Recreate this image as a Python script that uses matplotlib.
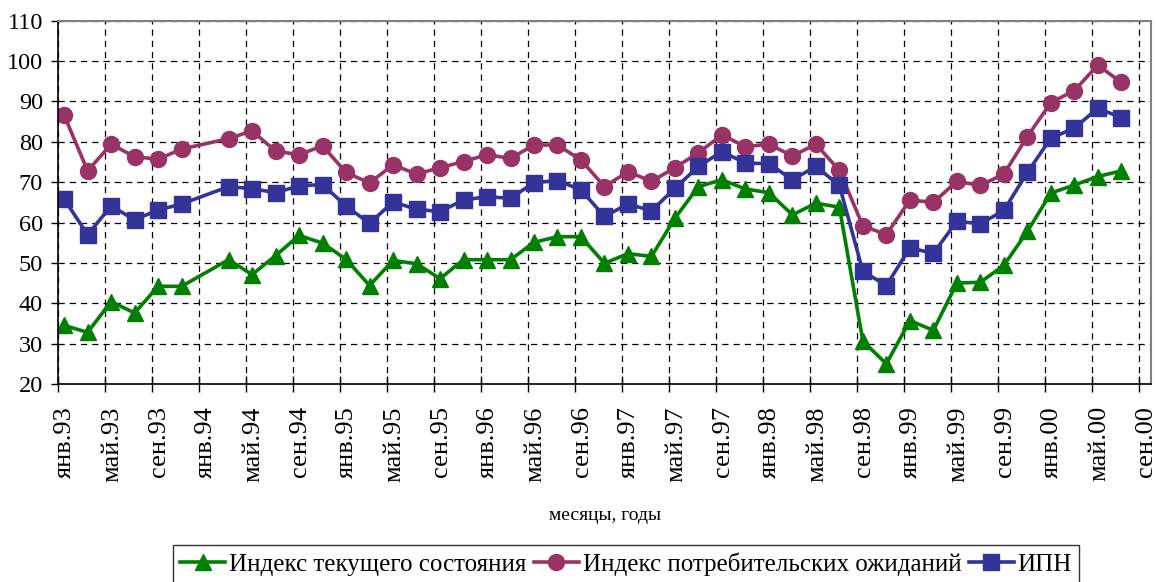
import numpy as np
import matplotlib
matplotlib.use('Agg')
import matplotlib.pyplot as plt
import matplotlib.transforms as mtransforms

plt.rcParams['font.family'] = ['Liberation Serif', 'DejaVu Serif']

# Даты наблюдений (год-месяц)
dates = ['1993-01', '1993-03', '1993-05', '1993-07', '1993-09', '1993-11',
         '1994-03', '1994-05', '1994-07', '1994-09', '1994-11',
         '1995-01', '1995-03', '1995-05', '1995-07', '1995-09', '1995-11',
         '1996-01', '1996-03', '1996-05', '1996-07', '1996-09', '1996-11',
         '1997-01', '1997-03', '1997-05', '1997-07', '1997-09', '1997-11',
         '1998-01', '1998-03', '1998-05', '1998-07', '1998-09', '1998-11',
         '1999-01', '1999-03', '1999-05', '1999-07', '1999-09', '1999-11',
         '2000-01', '2000-03', '2000-05', '2000-07']

# Индекс текущего состояния
tek = [34.5, 32.8, 40.4, 37.6, 44.2, 44.2,
       50.8, 47.1, 51.8, 56.8, 54.9,
       50.9, 44.4, 50.6, 49.8, 46.1, 50.8,
       50.8, 50.8, 55.1, 56.5, 56.5, 49.9,
       52.3, 51.6, 61.1, 68.9, 70.6, 68.3,
       67.4, 61.9, 64.8, 63.8, 30.6, 25.0,
       35.7, 33.3, 45.0, 45.2, 49.4, 57.8,
       67.3, 69.3, 71.4, 72.8]

# Индекс потребительских ожиданий
ozh = [86.6, 72.8, 79.4, 76.3, 75.7, 78.2,
       80.8, 82.7, 77.7, 76.8, 79.0,
       72.4, 69.8, 74.3, 72.0, 73.6, 75.1,
       76.8, 75.9, 79.2, 79.2, 75.5, 68.9,
       72.6, 70.2, 73.6, 77.3, 81.7, 78.8,
       79.4, 76.5, 79.4, 72.9, 59.2, 57.0,
       65.6, 65.0, 70.2, 69.2, 72.0, 81.3,
       89.7, 92.7, 99.0, 94.7]

# ИПН
ipn = [65.8, 57.0, 64.1, 60.7, 63.1, 64.6,
       68.9, 68.4, 67.4, 69.1, 69.4,
       64.1, 59.8, 65.1, 63.3, 62.7, 65.6,
       66.4, 66.0, 69.9, 70.4, 68.1, 61.5,
       64.6, 62.9, 68.5, 73.9, 77.6, 74.7,
       74.6, 70.6, 73.9, 69.2, 47.9, 44.4,
       53.7, 52.4, 60.3, 59.7, 63.0, 72.4,
       80.9, 83.4, 88.3, 86.0]

tick_labels = ['янв.93', 'май.93', 'сен.93', 'янв.94', 'май.94', 'сен.94',
               'янв.95', 'май.95', 'сен.95', 'янв.96', 'май.96', 'сен.96',
               'янв.97', 'май.97', 'сен.97', 'янв.98', 'май.98', 'сен.98',
               'янв.99', 'май.99', 'сен.99', 'янв.00', 'май.00', 'сен.00']

# номер месяца от янв.93, точка в середине месяца (как в Excel)
x = np.array([(int(d[:4]) - 1993) * 12 + int(d[5:]) - 1 for d in dates]) + 0.5

fig = plt.figure(figsize=(11.56, 5.82), dpi=100)
ax = fig.add_axes([0.0504, 0.3402, 0.945, 0.6242])

ax.plot(x, tek, color='#008000', lw=2.6, marker='^', ms=11.5,
        label='Индекс текущего состояния')
ax.plot(x, ozh, color='#993366', lw=2.6, marker='o', ms=11.5,
        label='Индекс потребительских ожиданий')
ax.plot(x, ipn, color='#333399', lw=2.6, marker='s', ms=11.5,
        label='ИПН')

ax.set_xlim(0, 93)
ax.set_ylim(20, 110)
ax.set_yticks(np.arange(20, 111, 10))
ax.set_xticks(np.arange(0, 93, 4))
ax.set_xticklabels(tick_labels, rotation=90)

ax.grid(True, color='black', linestyle=(0, (5, 4)), linewidth=0.9)
ax.set_axisbelow(True)

for s in ['top', 'right']:
    ax.spines[s].set_color('#808080')
    ax.spines[s].set_linewidth(1.5)
for s in ['left', 'bottom']:
    ax.spines[s].set_color('black')
    ax.spines[s].set_linewidth(1.2)

ax.tick_params(axis='y', direction='out', length=5, width=1, labelsize=17.5, pad=6)
ax.tick_params(axis='x', direction='inout', length=12, width=1, labelsize=19, pad=10)

# подписи оси X чуть правее делений, как в оригинале
shift = mtransforms.ScaledTranslation(7 / 100, 0, fig.dpi_scale_trans)
for lab in ax.get_xticklabels():
    lab.set_transform(lab.get_transform() + shift)

ax.set_xlabel('месяцы, годы', fontsize=14)
ax.xaxis.set_label_coords(0.5005, -0.3386)

leg = fig.legend(loc='upper center', bbox_to_anchor=(0.5415, 0.0636), ncol=3,
                 fontsize=18, frameon=True, fancybox=False, edgecolor='black',
                 handlelength=1.8, handletextpad=0.15, columnspacing=0.3,
                 borderpad=0.3, borderaxespad=0)
leg.get_frame().set_linewidth(1.0)

fig.savefig('out.png', dpi=100)
